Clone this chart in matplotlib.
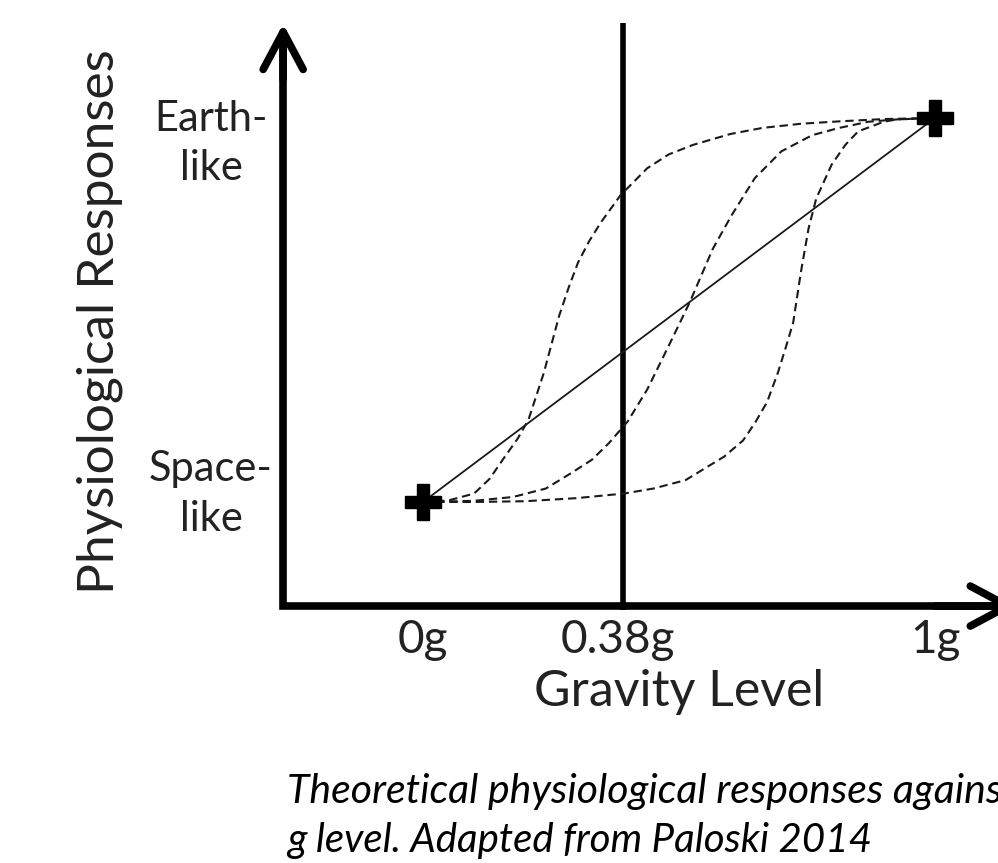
import matplotlib
matplotlib.use("Agg")
import matplotlib.pyplot as plt

plt.rcParams['font.family'] = ['Lato', 'DejaVu Sans']
plt.rcParams['lines.scale_dashes'] = False

# gravity level (g) vs. response (0 = space-like, 1 = earth-like)
end_x = [0.0, 1.0]
end_y = [0.0, 1.0]

# early adapting curve
early_x = [0.0, 0.05, 0.10, 0.13, 0.16, 0.185, 0.206, 0.236, 0.266, 0.285, 0.303, 0.325,
           0.348, 0.386, 0.438, 0.48, 0.528, 0.60, 0.663, 0.74, 0.813, 0.9, 1.0]
early_y = [0.0, 0.004, 0.022, 0.06, 0.118, 0.165, 0.214, 0.336, 0.485, 0.56, 0.624, 0.68,
           0.729, 0.799, 0.869, 0.905, 0.930, 0.958, 0.974, 0.985, 0.991, 0.997, 1.0]

# middle curve
mid_x = [0.0, 0.1, 0.176, 0.24, 0.288, 0.33, 0.363, 0.40, 0.438, 0.483, 0.521, 0.566,
         0.603, 0.648, 0.700, 0.76, 0.813, 0.87, 0.925, 1.0]
mid_y = [0.0, 0.003, 0.013, 0.035, 0.074, 0.11, 0.153, 0.21, 0.293, 0.415, 0.520, 0.659,
         0.747, 0.843, 0.913, 0.955, 0.974, 0.99, 0.996, 1.0]

# late curve
late_x = [0.0, 0.1, 0.2, 0.3, 0.393, 0.45, 0.513, 0.588, 0.625, 0.648, 0.672, 0.693, 0.708,
          0.723, 0.738, 0.753, 0.768, 0.798, 0.825, 0.850, 0.90, 0.925, 1.0]
late_y = [0.0, 0.0, 0.002, 0.01, 0.022, 0.035, 0.057, 0.118, 0.16, 0.205, 0.26, 0.336, 0.40,
          0.467, 0.598, 0.712, 0.790, 0.878, 0.93, 0.965, 0.99, 0.996, 1.0]

mars_x = 0.39
tick_pos = [0.0, 0.38, 1.0]
tick_labels = ['0g', '0.38g', '1g']

fig = plt.figure(figsize=(9.98, 8.63), dpi=100)
ax = fig.add_axes([0, 0, 1, 1])
ax.set_xlim(-0.826, 1.123)
ax.set_ylim(-0.940, 1.307)
ax.axis('off')

# axes (L shape) with open arrow heads
ax0, ay0 = -0.273, -0.271
ax.plot([ax0, ax0, 1.16], [1.20, ay0, ay0], color='black', lw=5.5,
        solid_joinstyle='miter', solid_capstyle='butt')
head = dict(arrowstyle='->,head_length=1.35,head_width=0.72', lw=5.5, color='black',
            shrinkA=0, shrinkB=0, mutation_scale=20)
ax.annotate('', xy=(ax0, 1.245), xytext=(ax0, 1.10), arrowprops=head,
            annotation_clip=False)
ax.annotate('', xy=(1.158, ay0), xytext=(1.0, ay0), arrowprops=head,
            annotation_clip=False)

# 0.38g line
ax.plot([mars_x, mars_x], [ay0 - 0.01, 1.247], color='black', lw=4, solid_capstyle='butt')

# curves
ax.plot(end_x, end_y, color='#1a1a1a', lw=1.3)
for cx, cy in [(early_x, early_y), (mid_x, mid_y), (late_x, late_y)]:
    ax.plot(cx, cy, color='#1a1a1a', lw=1.5, dashes=(6, 3.5))
ax.plot(end_x, end_y, 'P', color='black', markersize=26, zorder=5)

# labels
for x, lab in zip(tick_pos, tick_labels):
    ax.text(x, -0.393, lab, ha='center', va='baseline', fontsize=33, color='#222222')
ax.text(0.5, -0.531, 'Gravity Level', ha='center', va='baseline', fontsize=36, color='#222222')
ax.text(-0.631, 0.469, 'Physiological Responses', rotation=90, ha='center', va='center',
        fontsize=37, color='#222222')
ax.text(-0.414, 0.966, 'Earth-', ha='center', va='baseline', fontsize=30, color='#222222')
ax.text(-0.414, 0.839, 'like', ha='center', va='baseline', fontsize=30, color='#222222')
ax.text(-0.414, 0.055, 'Space-', ha='center', va='baseline', fontsize=30, color='#222222')
ax.text(-0.414, -0.076, 'like', ha='center', va='baseline', fontsize=30, color='#222222')

# caption runs past the right edge, as in the source
ax.text(-0.266, -0.784, 'Theoretical physiological responses against', ha='left',
        va='baseline', fontsize=29.5, style='italic', color='black')
ax.text(-0.266, -0.911, 'g level. Adapted from Paloski 2014', ha='left',
        va='baseline', fontsize=29, style='italic', color='black')

fig.savefig('out.png', dpi=100)
